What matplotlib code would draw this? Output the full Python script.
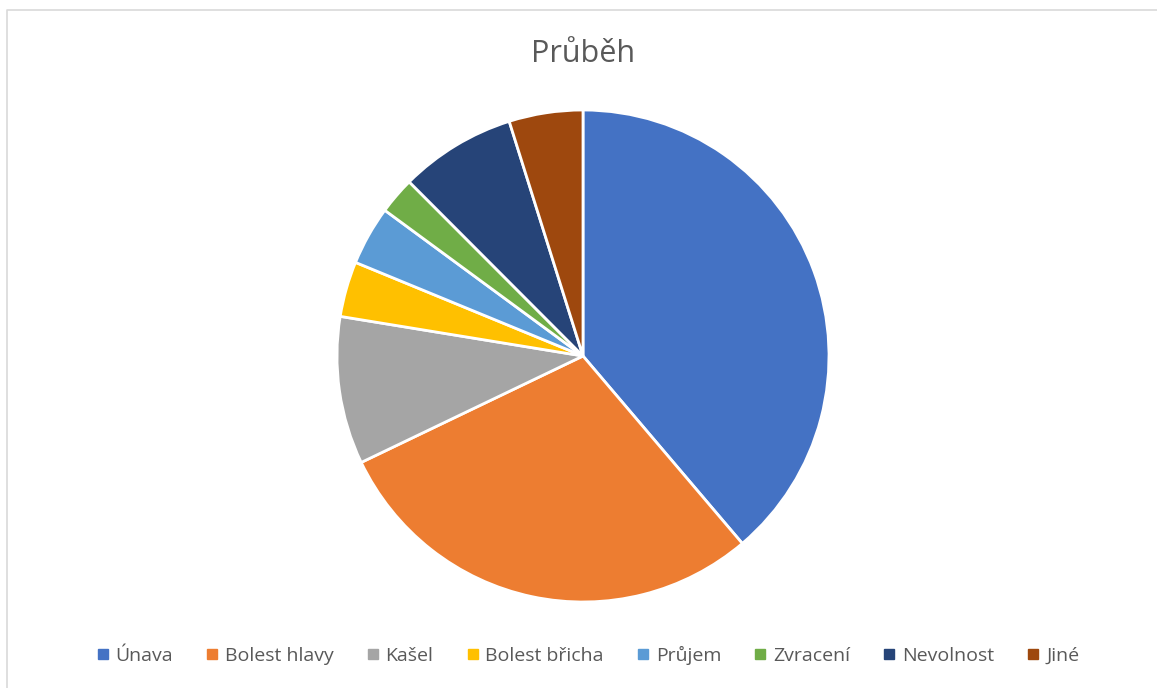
import matplotlib
matplotlib.use("Agg")
import matplotlib.pyplot as plt
from matplotlib.lines import Line2D

categories = ["Únava", "Bolest hlavy", "Kašel", "Bolest břicha", "Průjem", "Zvracení", "Nevolnost", "Jiné"]
values = [32, 24, 8, 3, 3.2, 2, 6.3, 4]
colors = ["#4472C4", "#ED7D31", "#A5A5A5", "#FFC000", "#5B9BD5", "#70AD47", "#264478", "#9E480E"]
title = "Průběh"

plt.rcParams['font.family'] = ['Open Sans', 'DejaVu Sans']

W, H = 1157, 688
fig = plt.figure(figsize=(W / 100, H / 100), dpi=100)
fig.patch.set_facecolor("white")

# chart border (top and left edges visible)
fig.add_artist(Line2D([6.5 / W, 6.5 / W, 1.0], [0.0, 1 - 9.5 / H, 1 - 9.5 / H],
                      transform=fig.transFigure, color="#D9D9D9", linewidth=1.2))

cx, cy, r = 583, 356, 246
ax = fig.add_axes([(cx - r) / W, (H - cy - r) / H, 2 * r / W, 2 * r / H])
ax.pie(values, colors=colors, startangle=90, counterclock=False, radius=1,
       wedgeprops=dict(edgecolor="white", linewidth=2.0))
ax.set_xlim(-1, 1)
ax.set_ylim(-1, 1)
ax.set_aspect("equal")
ax.axis("off")

fig.text(583 / W, 1 - 54 / H, title, ha="center", va="center", fontsize=22, color="#595959")

handles = [Line2D([0], [0], marker="s", linestyle="none", markersize=7,
                  markerfacecolor=c, markeredgecolor=c) for c in colors]
leg = fig.legend(handles, categories, loc="center", bbox_to_anchor=(588 / W, 1 - 655 / H),
                 ncol=len(categories), frameon=False, fontsize=14, labelcolor="#595959",
                 handlelength=0.6, handletextpad=0.35, columnspacing=1.72)

fig.savefig("out.png", dpi=100)
